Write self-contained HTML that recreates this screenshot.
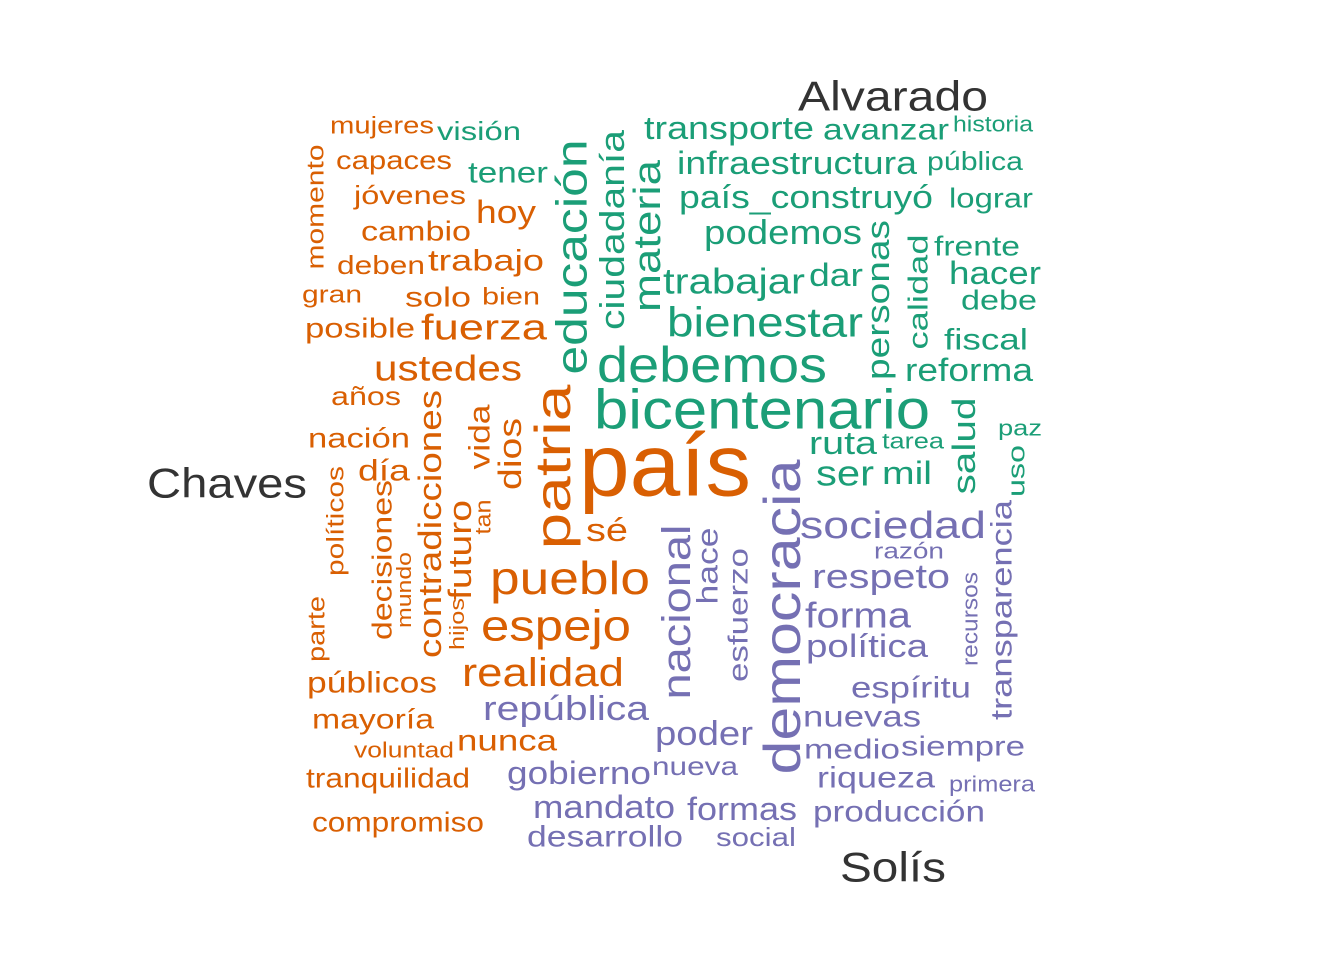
<!DOCTYPE html>
<html><head><meta charset="utf-8"><style>
html,body{margin:0;padding:0;background:#fff;}
svg text{font-family:"Liberation Sans",Arial,sans-serif;}
</style></head>
<body>
<svg id="cloud" width="1344" height="960" viewBox="0 0 1344 960" xmlns="http://www.w3.org/2000/svg">
<rect width="1344" height="960" fill="#fff"/>
</svg>
<script>
const groupNames = ["Chaves","Alvarado","Solís"];
const groupColors = ["#D95F02","#1B9E77","#7570B3"];
const labelPos = [[227,483,160],[893,96,190],[893,867,106]];
// word, group, cx, cy, length, fontsize, vertical
const words = ["mujeres","capaces","momento","jóvenes","cambio","deben","trabajo","hoy","gran","solo","bien","posible","fuerza","ustedes","años","nación","contradicciones","vida","dios","patria","día","políticos","decisiones","mundo","futuro","tan","hijos","sé","pueblo","parte","espejo","públicos","realidad","mayoría","nunca","voluntad","tranquilidad","compromiso","país",
"visión","transporte","avanzar","historia","tener","educación","ciudadanía","materia","infraestructura","pública","país_construyó","lograr","podemos","personas","calidad","frente","trabajar","dar","hacer","debe","bienestar","fiscal","debemos","reforma","bicentenario","salud","ruta","tarea","paz","uso","ser","mil",
"democracia","sociedad","nacional","hace","razón","transparencia","respeto","esfuerzo","recursos","forma","política","espíritu","república","nuevas","poder","siempre","medio","gobierno","nueva","riqueza","primera","mandato","formas","producción","desarrollo","social"];
const groups = [0,0,0,0,0,0,0,0,0,0,0,0,0,0,0,0,0,0,0,0,0,0,0,0,0,0,0,0,0,0,0,0,0,0,0,0,0,0,0,
1,1,1,1,1,1,1,1,1,1,1,1,1,1,1,1,1,1,1,1,1,1,1,1,1,1,1,1,1,1,1,1,
2,2,2,2,2,2,2,2,2,2,2,2,2,2,2,2,2,2,2,2,2,2,2,2,2,2];
const layout = [
[382,126,104,24,0],[394,160,116,26,0],[316,207,125,24,1],[410,195,112,26,0],[416,231,110,28,0],[381,265,88,26,0],[486,261,116,30,0],[506,212,60,32,0],[332,295,60,24,0],[438,297,66,28,0],[511,297,58,24,0],[360,328,110,28,0],[484,327,126,36,0],[448,368,148,36,0],[366,396,70,26,0],[359,438,102,28,0],[430,524,268,32,1],[480,437,65,30,1],[510,454,72,32,1],[553,467,165,50,1],[384,471,52,30,0],[336,521,110,24,1],[382,560,160,28,1],[405,590,76,20,1],[460,550,100,32,1],[483,517,35,22,1],[458,624,52,20,1],[607,530,42,32,0],[570,578,160,46,0],[317,629,66,24,1],[556,626,150,44,0],[372,683,130,30,0],[543,673,162,40,0],[373,719,122,28,0],[507,741,100,30,0],[404,750,100,22,0],[388,778,164,28,0],[398,822,172,28,0],[665,465,172,88,0],
[479,131,84,26,0],[729,128,170,32,0],[886,130,126,30,0],[993,124,80,22,0],[508,173,80,30,0],[572,257,235,44,1],[613,230,200,34,1],[648,236,152,38,1],[797,163,240,32,0],[975,161,96,26,0],[806,197,254,32,0],[991,198,84,28,0],[783,233,158,34,0],[878,300,160,32,1],[918,292,115,28,1],[977,246,86,28,0],[734,281,142,36,0],[836,275,54,32,0],[995,273,92,32,0],[999,300,76,28,0],[765,322,196,42,0],[986,340,84,30,0],[712,365,230,50,0],[969,370,128,32,0],[762,409,336,56,0],[964,446,97,32,1],[843,443,68,32,0],[913,441,62,22,0],[1020,428,44,22,0],[1017,471,52,24,1],[845,473,58,36,0],[907,473,50,32,0],
[783,617,315,52,1],[893,526,186,38,0],[677,612,175,40,1],[708,566,77,30,1],[909,551,70,22,0],[1002,610,220,30,1],[881,577,138,34,0],[738,615,134,28,1],[970,619,94,22,1],[858,615,106,36,0],[867,646,122,32,0],[911,688,120,30,0],[566,709,166,34,0],[862,717,118,30,0],[704,734,98,34,0],[963,746,124,28,0],[852,749,96,28,0],[579,773,144,32,0],[695,766,86,26,0],[876,778,118,30,0],[992,784,86,22,0],[604,807,142,32,0],[742,809,110,32,0],[899,812,172,30,0],[605,837,156,30,0],[756,837,80,26,0]];
const svg=document.getElementById('cloud');
const NS="http://www.w3.org/2000/svg";
function mk(str,x,y,len,fs,vert,color){
  const t=document.createElementNS(NS,'text');
  t.setAttribute('x',x);t.setAttribute('y',y);
  t.setAttribute('text-anchor','middle');
  t.setAttribute('dominant-baseline','central');
  t.setAttribute('font-size',fs);
  t.setAttribute('fill',color);
  t.setAttribute('textLength',len);
  t.setAttribute('lengthAdjust','spacingAndGlyphs');
  if(vert) t.setAttribute('transform','rotate(-90 '+x+' '+y+')');
  t.textContent=str;
  svg.appendChild(t);
  return t;
}
for(let i=0;i<words.length;i++){
  const L=layout[i];
  const t=mk(words[i],L[0],L[1],L[2],L[3],L[4],groupColors[groups[i]]);
  
  
}
for(let g=0;g<groupNames.length;g++){
  const P=labelPos[g];
  const t=mk(groupNames[g],P[0],P[1],P[2],42,0,"#333333");
  
  
}
</script>
</body></html>
